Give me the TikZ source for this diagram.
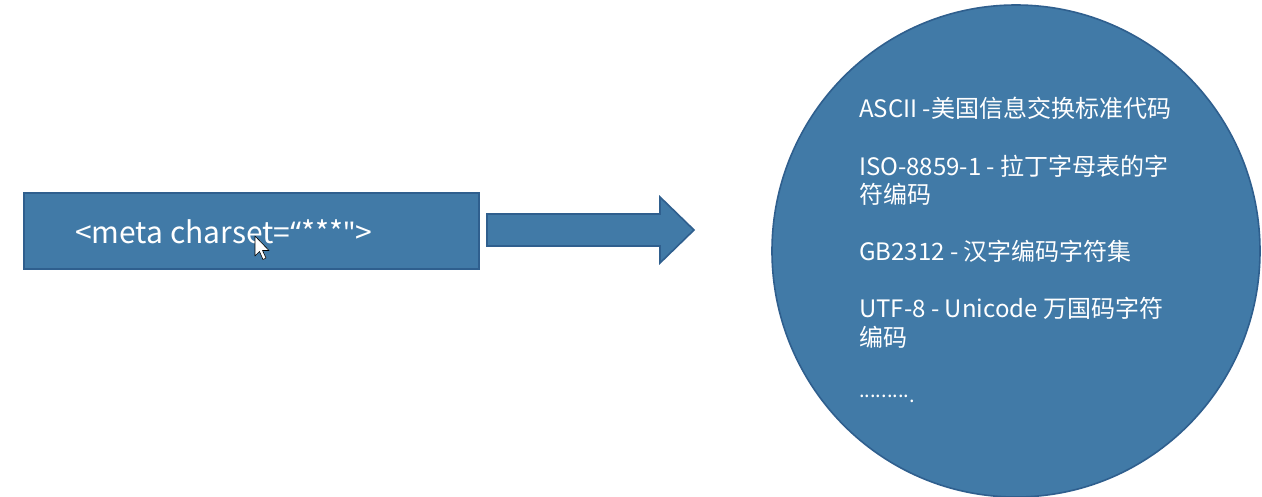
\documentclass[tikz,border=0pt]{standalone}
\usepackage{fontspec}
\setmainfont{Noto Sans CJK SC}
\newfontfamily\lat{Noto Sans}
\usetikzlibrary{shapes.geometric}
\definecolor{boxfill}{HTML}{417AA7}
\definecolor{boxline}{HTML}{2F5F8E}
\begin{document}
\begin{tikzpicture}[x=1pt,y=-1pt,
  shape fill/.style={fill=boxfill,draw=boxline,line width=1.6pt},
  wtext/.style={text=white,inner sep=0pt,anchor=base west,font=\fontsize{24}{29}\selectfont}]
\useasboundingbox (0,0) rectangle (1262,496);
\fill[white] (0,0) rectangle (1262,496);
% left box
\node[shape fill,rectangle,minimum width=455pt,minimum height=76pt,inner sep=0pt,anchor=north west] (box) at (23,192) {};
\node[wtext,font=\fontsize{30}{34}\selectfont] (meta) at (75,243) {<meta charset={\lat “}***{\lat "}>};
% mouse cursor
\draw[fill=white,draw=black,line width=0.6pt,line join=round] (255,236) -- (255,256) -- (259.5,251.5) -- (263,259.5) -- (266,258) -- (262.5,250.5) -- (269,250.5) -- cycle;
% block arrow
\draw[shape fill,line join=miter] (487,214) -- (660,214) -- (660,197) -- (694,230) -- (660,263) -- (660,246) -- (487,246) -- cycle;
% circle
\node[shape fill,ellipse,minimum width=488pt,minimum height=492pt,inner sep=0pt] (circ) at (1016,251) {};
\node[wtext] (l1) at (859,117) {ASCII -美国信息交换标准代码};
\node[wtext] (l2) at (859,175) {ISO-8859-1 - 拉丁字母表的字};
\node[wtext] (l3) at (859,203) {符编码};
\node[wtext] (l4) at (859,260) {GB2312 - 汉字编码字符集};
\node[wtext] (l5) at (859,317) {UTF-8 - Unicode 万国码字符};
\node[wtext] (l6) at (859,346) {编码};
\node[wtext,font=\fontsize{20}{22}\selectfont] (l7) at (859,397) {.........\raisebox{-5pt}{.}};
\end{tikzpicture}
\end{document}
